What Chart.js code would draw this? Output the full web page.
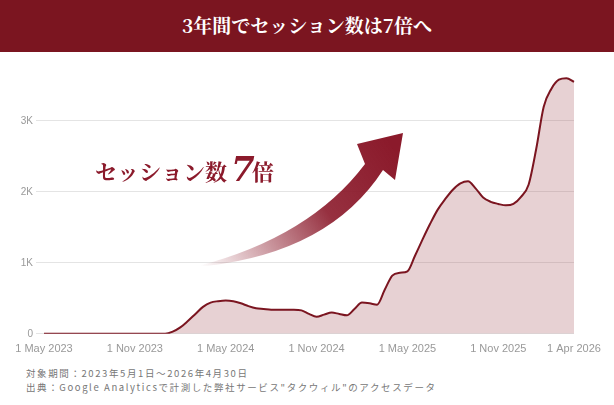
<!DOCTYPE html>
<html>
<head>
<meta charset="utf-8">
<script src="https://cdn.jsdelivr.net/npm/chart.js@4"></script>
<style>
  body { margin: 0; width: 614px; height: 405px; background: #fff; overflow: hidden; font-family: "Noto Sans CJK JP", sans-serif; }
  .head { height: 52px; background: #7B1520; color: #fff; text-align: center; line-height: 50px; font-size: 19px; font-weight: bold; font-family: "Noto Serif CJK JP", "Noto Sans CJK JP", serif; }
  .wrap { position: relative; width: 614px; height: 305px; }
  .note { position: absolute; left: 26px; top: 366px; font-size: 9.5px; color: #777; letter-spacing: 1.6px; line-height: 14px; }
</style>
</head>
<body>
<div class="head">3年間でセッション数は7倍へ</div>
<div class="wrap"><canvas id="myChart"></canvas></div>
<div class="note">対象期間：2023年5月1日〜2026年4月30日<br>出典：Google Analyticsで計測した弊社サービス"タクウィル"のアクセスデータ</div>
<script>
// half-month samples, 1 May 2023 .. Apr 2026
const tickLabels = { 0: '1 May 2023', 12: '1 Nov 2023', 24: '1 May 2024', 36: '1 Nov 2024', 48: '1 May 2025', 60: '1 Nov 2025', 70: '1 Apr 2026' };
// sessions in thousands
const sessions = [
  0, 0, 0, 0, 0, 0, 0, 0, 0, 0, 0, 0, 0, 0, 0, 0, 0,
  0.03, 0.09, 0.18, 0.28, 0.38, 0.44, 0.46, 0.47, 0.46, 0.43, 0.39, 0.36, 0.35,
  0.34, 0.34, 0.34, 0.34, 0.33, 0.28, 0.24, 0.27, 0.30, 0.28, 0.26, 0.35, 0.44,
  0.43, 0.41, 0.62, 0.82, 0.86, 0.88, 1.1, 1.33, 1.55, 1.75, 1.9, 2.03, 2.12,
  2.15, 2.05, 1.92, 1.86, 1.83, 1.81, 1.83, 1.93, 2.1, 2.6, 3.2, 3.45, 3.58, 3.6, 3.55
];
const labels = sessions.map((v, i) => tickLabels[i] || '');

const annotation = {
    id: 'annotation',
    afterDraw(chart) {
        const ctx = chart.ctx;
        ctx.save();
        // arrow body
        const grad = ctx.createLinearGradient(200, 213, 390, 90);
        grad.addColorStop(0, 'rgba(139,26,43,0)');
        grad.addColorStop(0.6, 'rgba(139,26,43,0.9)');
        grad.addColorStop(1, 'rgba(139,26,43,1)');
        ctx.fillStyle = grad;
        ctx.beginPath();
        ctx.moveTo(198, 214);
        ctx.quadraticCurveTo(310, 185, 365, 112);
        ctx.lineTo(357, 92);
        ctx.lineTo(403, 81);
        ctx.lineTo(395, 128);
        ctx.lineTo(383, 118);
        ctx.quadraticCurveTo(330, 200, 206, 214);
        ctx.closePath();
        ctx.fill();
        // label
        ctx.fillStyle = '#8B1A2B';
        ctx.textBaseline = 'alphabetic';
        ctx.font = 'bold 22px "Noto Serif CJK JP", "Noto Sans CJK JP", serif';
        ctx.fillText('セッション数', 95, 128);
        ctx.font = 'bold italic 34px "DejaVu Serif", serif';
        ctx.fillText('7', 231, 129);
        ctx.font = 'bold 22px "Noto Serif CJK JP", "Noto Sans CJK JP", serif';
        ctx.fillText('倍', 252, 128);
        ctx.restore();
    }
};

new Chart(document.getElementById('myChart'), {
    type: 'line',
    data: {
        labels: labels,
        datasets: [{
            data: sessions,
            borderColor: '#7B1520',
            backgroundColor: 'rgba(160,70,80,0.25)',
            borderWidth: 2,
            fill: true,
            pointRadius: 0,
            cubicInterpolationMode: 'monotone'
        }]
    },
    options: {
        responsive: true,
        maintainAspectRatio: false,
        animation: false,
        layout: { padding: { right: 40, top: 10 } },
        plugins: { legend: { display: false }, tooltip: { enabled: false } },
        scales: {
            x: {
                offset: false,
                grid: { display: false },
                border: { display: false },
                ticks: {
                    autoSkip: false, maxRotation: 0, color: '#999', padding: 1,
                    font: { family: 'Liberation Sans', size: 11 },
                    callback: (v, i) => labels[i]
                }
            },
            y: {
                min: 0, max: 3.83,
                afterFit: s => { s.width = 44; },
                afterBuildTicks: s => { s.ticks = [0, 1, 2, 3].map(v => ({ value: v })); },
                grid: { color: '#e4e4e4' },
                border: { display: false },
                ticks: {
                    color: '#999', font: { family: 'Liberation Sans', size: 10 },
                    callback: v => v === 0 ? '0' : v + 'K'
                }
            }
        }
    },
    plugins: [annotation]
});
</script>
</body>
</html>
